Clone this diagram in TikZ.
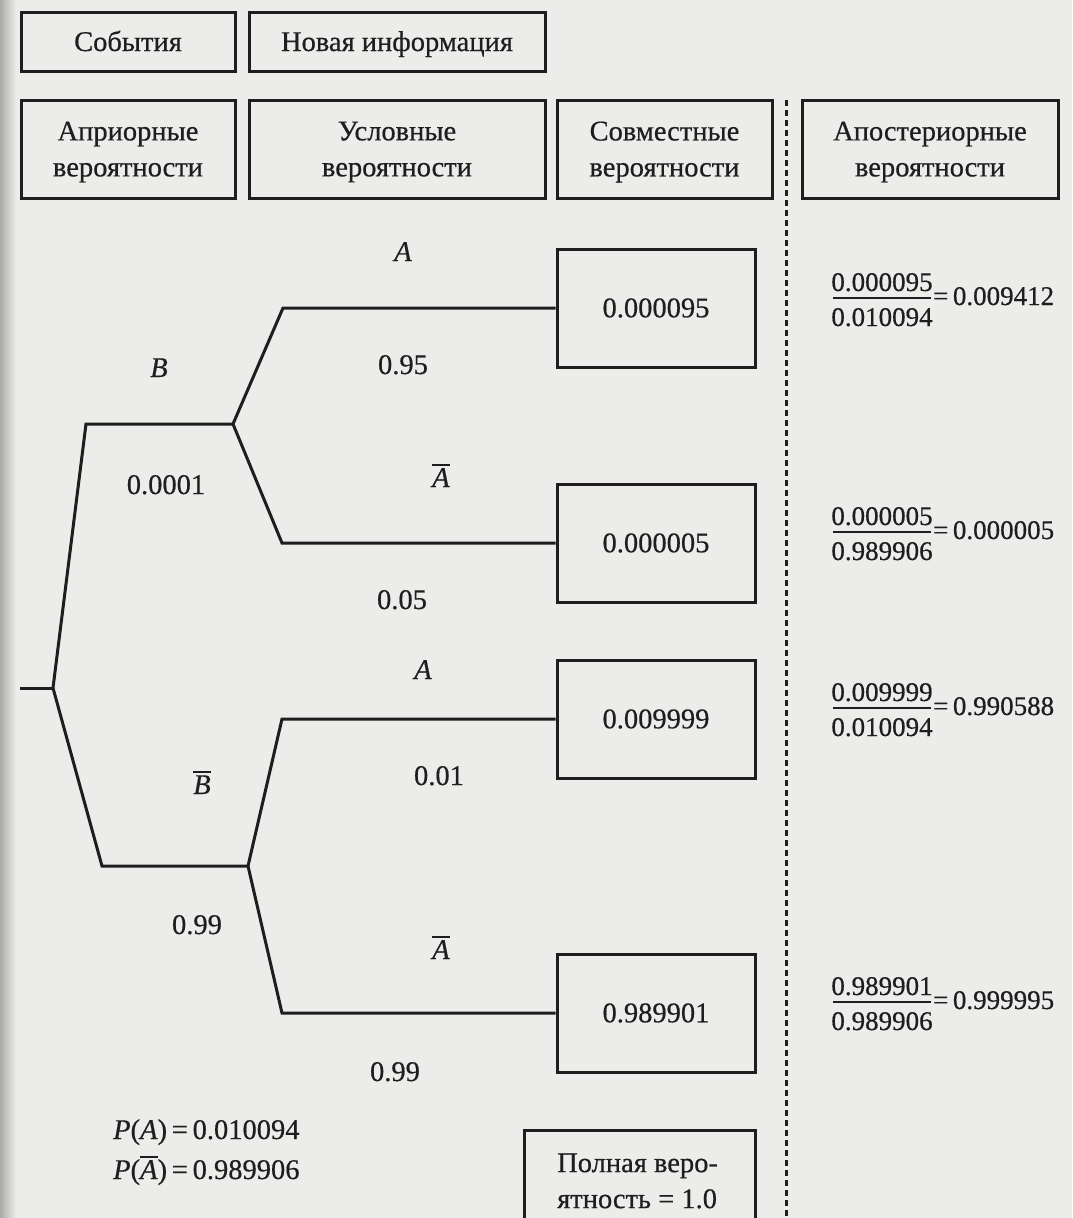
\documentclass[tikz,border=0pt]{standalone}
\usepackage{fontspec}
\setmainfont{Liberation Serif}[UprightFeatures={FakeBold=0.5},ItalicFeatures={FakeBold=0.5}]
\definecolor{ink}{RGB}{30,30,30}
\definecolor{paper}{RGB}{236,236,234}
\definecolor{edge}{RGB}{170,170,168}
\newcommand\boxfont{\fontsize{28.5}{36}\selectfont}
\newcommand\eqfont{\fontsize{27}{32}\selectfont}
% bar over a letter (complement of an event)
\newcommand\ovl[1]{\leavevmode\vbox{\hrule height 2pt\kern 2.5pt\hbox{#1}}}
\begin{document}
\begin{tikzpicture}[x=1pt,y=-1pt,
  line/.style={draw=ink,line width=3pt},
  hbox/.style={draw=ink,line width=3pt,inner sep=0pt,align=center,text=ink,font=\boxfont},
  onerow/.style={hbox,text height=19pt,text depth=0pt,minimum height=59pt},
  tworow/.style={hbox,text depth=0pt,minimum height=98pt},
  jbox/.style={hbox,minimum width=198pt,minimum height=118pt},
  lbl/.style={inner sep=0pt,text=ink,font=\boxfont},
  eqtxt/.style={inner sep=0pt,text=ink,font=\eqfont},
  fracbar/.style={draw=ink,line width=2.2pt},
  divider/.style={draw=ink,line width=3pt,dash pattern=on 6pt off 4pt}]
\useasboundingbox (0,0) rectangle (1072,1218);
\fill[paper] (0,0) rectangle (1072,1218);
\shade[left color=edge,right color=paper] (0,0) rectangle (16,1218);

% header boxes
\node[onerow,minimum width=214pt] (hEv) at (128,41.5) {События};
\node[onerow,minimum width=296pt] (hNew) at (397,41.5) {Новая информация};
\node[tworow,minimum width=214pt] (hPrior) at (128,149) {Априорные\\вероятности};
\node[tworow,minimum width=296pt] (hCond) at (397,149) {Условные\\вероятности};
\node[tworow,minimum width=215pt] (hJoint) at (664.5,149) {Совместные\\вероятности};
\node[tworow,minimum width=256pt] (hPost) at (930,149) {Апостериорные\\вероятности};

% dashed divider
\coordinate (dTop) at (786,100);
\coordinate (dBot) at (786,1218);
\draw[divider] (dTop) -- (dBot);

% joint probability boxes
\node[jbox] (jBA) at (656,308) {0.000095};
\node[jbox] (jBAn) at (656,543) {0.000005};
\node[jbox] (jBnA) at (656,719) {0.009999};
\node[jbox] (jBnAn) at (656,1013) {0.989901};

% total probability box (runs off the bottom edge)
\begin{scope}
\clip (0,0) rectangle (1072,1218);
\draw[line] (524,1240) -- (524,1130) -- (755,1130) -- (755,1240);
\end{scope}
\node[lbl,anchor=west,align=left] (total) at (557,1181) {Полная веро-\\ятность = 1.0};

% tree
\coordinate (root) at (20,688);
\coordinate (s0) at (53,688);
\coordinate (kB) at (86,424);
\coordinate (sB) at (233,424);
\coordinate (kBn) at (102,866);
\coordinate (sBn) at (248,866);
\coordinate (kBA) at (283,308);
\coordinate (kBAn) at (282,543);
\coordinate (kBnA) at (282,719);
\coordinate (kBnAn) at (282,1013);
\draw[line] (root) -- (s0);
\draw[line] (s0) -- (kB) -- (sB);
\draw[line] (s0) -- (kBn) -- (sBn);
\draw[line] (sB) -- (kBA) -- (jBA.west);
\draw[line] (sB) -- (kBAn) -- (jBAn.west);
\draw[line] (sBn) -- (kBnA) -- (jBnA.west);
\draw[line] (sBn) -- (kBnAn) -- (jBnAn.west);

% branch labels
\node[lbl,anchor=base] (tB) at (159,377) {\textit{B}};
\node[lbl,anchor=base] (pB) at (166,494) {0.0001};
\node[lbl,anchor=base] (tBn) at (202,794) {\ovl{\textit{B}}};
\node[lbl,anchor=base] (pBn) at (197,934) {0.99};
\node[lbl,anchor=base] (tA1) at (403,261) {\textit{A}};
\node[lbl,anchor=base] (pA1) at (403,374) {0.95};
\node[lbl,anchor=base] (tAn1) at (441,487) {\ovl{\textit{A}}};
\node[lbl,anchor=base] (pAn1) at (402,609) {0.05};
\node[lbl,anchor=base] (tA2) at (423,679) {\textit{A}};
\node[lbl,anchor=base] (pA2) at (439,785) {0.01};
\node[lbl,anchor=base] (tAn2) at (441,959) {\ovl{\textit{A}}};
\node[lbl,anchor=base] (pAn2) at (395,1081) {0.99};

% marginal probabilities of A
\node[lbl,anchor=base west] (mA) at (113,1139) {\textit{P}(\textit{A})\,=\,0.010094};
\node[lbl,anchor=base west] (mAn) at (113,1179) {\textit{P}(\ovl{\textit{A}})\,=\,0.989906};

% posterior probabilities
\node[eqtxt,anchor=base] (n1) at (882,291) {0.000095};
\node[eqtxt,anchor=base] (d1) at (882,326) {0.010094};
\draw[fracbar] (833,298) -- (931,298);
\node[eqtxt,anchor=base west] (q1) at (933,305) {=\,0.009412};

\node[eqtxt,anchor=base] (n2) at (882,525) {0.000005};
\node[eqtxt,anchor=base] (d2) at (882,560) {0.989906};
\draw[fracbar] (833,532) -- (931,532);
\node[eqtxt,anchor=base west] (q2) at (933,539) {=\,0.000005};

\node[eqtxt,anchor=base] (n3) at (882,701) {0.009999};
\node[eqtxt,anchor=base] (d3) at (882,736) {0.010094};
\draw[fracbar] (833,708) -- (931,708);
\node[eqtxt,anchor=base west] (q3) at (933,715) {=\,0.990588};

\node[eqtxt,anchor=base] (n4) at (882,995) {0.989901};
\node[eqtxt,anchor=base] (d4) at (882,1030) {0.989906};
\draw[fracbar] (833,1002) -- (931,1002);
\node[eqtxt,anchor=base west] (q4) at (933,1009) {=\,0.999995};
\end{tikzpicture}
\end{document}
